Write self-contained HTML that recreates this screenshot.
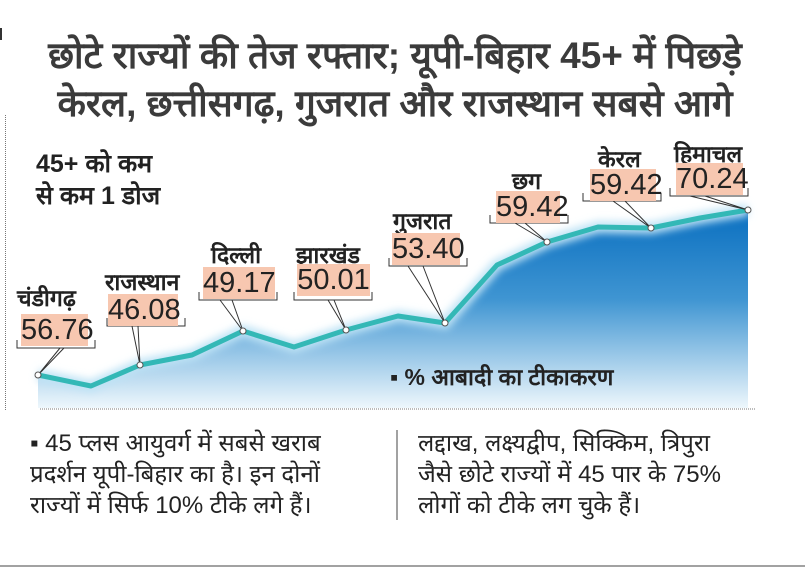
<!DOCTYPE html>
<html><head><meta charset="utf-8"><style>
body{margin:0;width:805px;height:574px;background:#fff;overflow:hidden;position:relative;font-family:"Liberation Sans","Noto Sans CJK SC",sans-serif;}
.t{position:absolute;white-space:nowrap;color:#222;}
.h{font-weight:bold;font-size:37px;color:#3b3b3b;left:0;width:790px;text-align:center;}
.box{position:absolute;background:#f7c7b0;font-size:29px;color:#222;line-height:32px;text-align:center;}
.lb{position:absolute;font-size:23px;font-weight:bold;color:#222;white-space:nowrap;}
.note{position:absolute;font-size:24px;color:#222;line-height:31px;white-space:nowrap;}
</style></head><body>
<div style="position:absolute;left:0;top:28px;width:2px;height:12px;background:#333"></div>
<div class="t h" style="top:28px">छोटे राज्यों की तेज रफ्तार; यूपी-बिहार 45+ में पिछड़े</div>
<div class="t h" style="top:76px">केरल, छत्तीसगढ़, गुजरात और राजस्थान सबसे आगे</div>
<div style="position:absolute;left:5px;top:115px;height:295px;border-left:1px dotted #777"></div>
<svg width="805" height="574" style="position:absolute;left:0;top:0">
<defs>
<linearGradient id="g" x1="0" y1="210" x2="0" y2="408" gradientUnits="userSpaceOnUse">
<stop offset="0" stop-color="#0a6fc0"/><stop offset="0.45" stop-color="#3f95d2"/><stop offset="1" stop-color="#eef7fc"/></linearGradient>
<filter id="bl"><feGaussianBlur stdDeviation="4"/></filter>
</defs>
<polygon points="38,375 91,386 140,365 192,355 243,331 294,347 346,330 398,316 445,323 497,265 547,242 598,227 651,228 700,218 748,210 748,408 38,408" fill="url(#g)"/>
<polyline points="38,375 91,386 140,365 192,355 243,331 294,347 346,330 398,316 445,323 497,265 547,242 598,227 651,228 700,218 748,210" fill="none" stroke="#bfe3f5" stroke-width="12" filter="url(#bl)"/>
<polyline points="38,375 91,386 140,365 192,355 243,331 294,347 346,330 398,316 445,323 497,265 547,242 598,227 651,228 700,218 748,210" fill="none" stroke="#33b8b6" stroke-width="5" stroke-linejoin="round"/>
<g stroke="#333" stroke-width="1" fill="none">
<path d="M17,340 v8 h78 v-8"/><path d="M60,348 L38,375 M64,348 L38,375"/>
<path d="M107,318 v8 h78 v-8"/><path d="M138,326 L140,365 M132,326 L140,365"/>
<path d="M199,292 v8 h78 v-8"/><path d="M220,300 L243,331 M232,300 L243,331"/>
<path d="M294,292 v8 h78 v-8"/><path d="M328,300 L346,330 M334,300 L346,330"/>
<path d="M389,258 v8 h78 v-8"/><path d="M408,266 L445,323 M423,266 L445,323"/>
<path d="M490,215 v8 h78 v-8"/><path d="M515,223 L547,242 M525,223 L547,242"/>
<path d="M583,193 v8 h78 v-8"/><path d="M613,201 L651,228 M625,201 L651,228"/>
<path d="M670,188 v8 h78 v-8"/><path d="M690,196 L748,210 M705,196 L748,210"/>
</g>
<g fill="#fff" stroke="#555" stroke-width="1">
<circle cx="38" cy="375" r="3"/><circle cx="140" cy="365" r="3"/><circle cx="243" cy="331" r="3"/><circle cx="346" cy="330" r="3"/><circle cx="445" cy="323" r="3"/><circle cx="547" cy="242" r="3"/><circle cx="651" cy="228" r="3"/><circle cx="748" cy="210" r="3"/>
</g>
<line x1="40" y1="409" x2="755" y2="409" stroke="#777" stroke-dasharray="1,1"/>
<line x1="397" y1="430" x2="397" y2="520" stroke="#444"/>
<line x1="0" y1="566" x2="805" y2="566" stroke="#444"/>
</svg>
<div class="t" style="left:36px;top:148px;font-size:25px;font-weight:bold;line-height:32px">45+ को कम<br>से कम 1 डोज</div>
<div class="lb" style="left:17px;top:281px">चंडीगढ़</div><div class="box" style="left:21px;top:314px;width:67px">56.76</div>
<div class="lb" style="left:105px;top:265px">राजस्थान</div><div class="box" style="left:108px;top:294px;width:70px">46.08</div>
<div class="lb" style="left:211px;top:238px">दिल्ली</div><div class="box" style="left:203px;top:267px;width:72px">49.17</div>
<div class="lb" style="left:296px;top:238px">झारखंड</div><div class="box" style="left:297px;top:264px;width:73px">50.01</div>
<div class="lb" style="left:393px;top:204px">गुजरात</div><div class="box" style="left:392px;top:233px;width:68px">53.40</div>
<div class="lb" style="left:512px;top:164px">छग</div><div class="box" style="left:496px;top:191px;width:64px">59.42</div>
<div class="lb" style="left:598px;top:142px">केरल</div><div class="box" style="left:590px;top:169px;width:66px">59.42</div>
<div class="lb" style="left:674px;top:137px">हिमाचल</div><div class="box" style="left:676px;top:163px;width:67px">70.24</div>
<div class="t" style="left:390px;top:360px;font-size:23px;font-weight:bold">▪ % आबादी का टीकाकरण</div>
<div class="note" style="left:30px;top:428px">▪ 45 प्लस आयुवर्ग में सबसे खराब<br>प्रदर्शन यूपी-बिहार का है। इन दोनों<br>राज्यों में सिर्फ 10% टीके लगे हैं।</div>
<div class="note" style="left:418px;top:428px">लद्दाख, लक्ष्यद्वीप, सिक्किम, त्रिपुरा<br>जैसे छोटे राज्यों में 45 पार के 75%<br>लोगों को टीके लग चुके हैं।</div>
</body></html>
